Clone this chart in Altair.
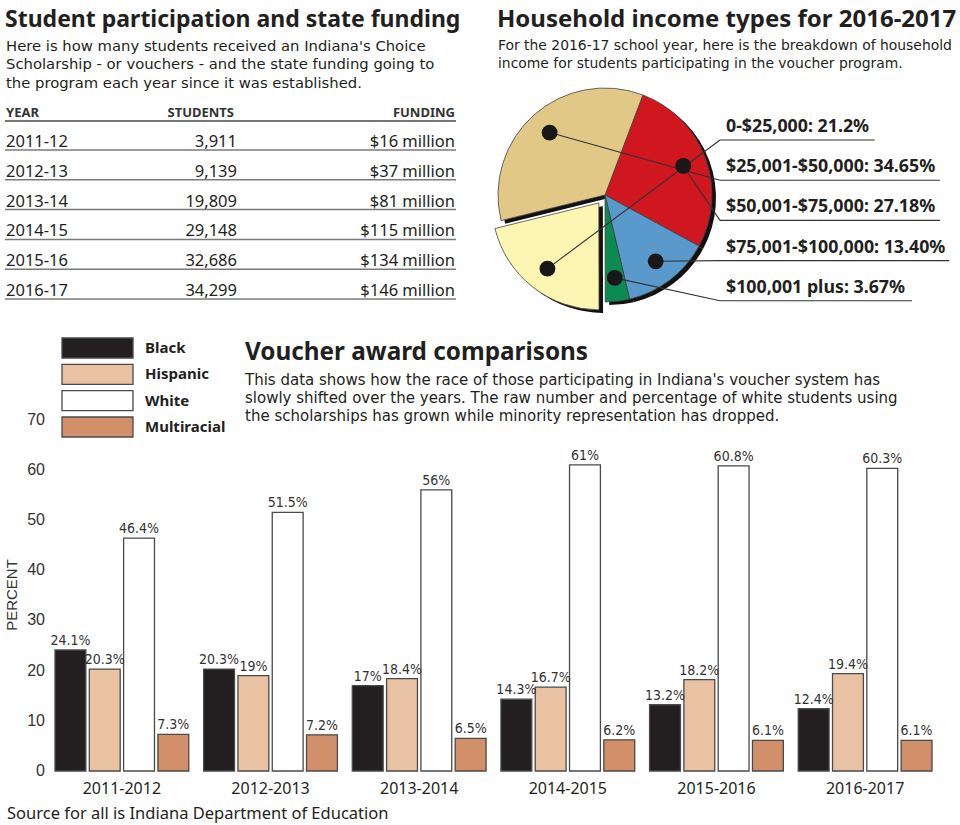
import math
import altair as alt
import pandas as pd

# ---------------- data ----------------
table_years = ["2011-12", "2012-13", "2013-14", "2014-15", "2015-16", "2016-17"]
table_students = [3911, 9139, 19809, 29148, 32686, 34299]
table_funding_millions = [16, 37, 81, 115, 134, 146]

income_labels = ["0-$25,000", "$25,001-$50,000", "$50,001-$75,000",
                 "$75,001-$100,000", "$100,001 plus"]
income_pct_text = ["21.2%", "34.65%", "27.18%", "13.40%", "3.67%"]
income_pct = [21.2, 34.65, 27.18, 13.40, 3.67]
income_colors = ["#FDF5B2", "#E2C887", "#D0161F", "#5A99CB", "#0B8A52"]
# clockwise drawing order of the slices
pie_order = ["$50,001-$75,000", "$75,001-$100,000", "$100,001 plus",
             "0-$25,000", "$25,001-$50,000"]
exploded_label = "0-$25,000"

bar_years = ["2011-2012", "2012-2013", "2013-2014", "2014-2015", "2015-2016", "2016-2017"]
races = ["Black", "Hispanic", "White", "Multiracial"]
race_colors = ["#231F20", "#E8C2A3", "#FFFFFF", "#D1906A"]
black_pct = [24.1, 20.3, 17, 14.3, 13.2, 12.4]
hispanic_pct = [20.3, 19, 18.4, 16.7, 18.2, 19.4]
white_pct = [46.4, 51.5, 56, 61, 60.8, 60.3]
multiracial_pct = [7.3, 7.2, 6.5, 6.2, 6.1, 6.1]
y_ticks = [0, 10, 20, 30, 40, 50, 60, 70]

# ---------------- style ----------------
INK = "#231F20"
BODY = "Noto Sans"
WIDE = "DejaVu Sans"
ARIAL = "Liberation Sans"
NARROW = "Liberation Sans Narrow, DejaVu Sans Condensed, sans-serif"

one = pd.DataFrame({"a": [0]})


def text_line(s, x, y, size, weight="normal", font=BODY, align="left",
              color=INK, angle=0, baseline="alphabetic"):
    return alt.Chart(one).mark_text(
        text=s, align=align, baseline=baseline, font=font, fontSize=size,
        fontWeight=weight, color=color, angle=angle
    ).encode(x=alt.value(x), y=alt.value(y))


layers = []

# ---------------- section 1: table ----------------
layers.append(text_line("Student participation and state funding", 5, 27, 23, "bold"))
for i, s in enumerate([
        "Here is how many students received an Indiana's Choice",
        "Scholarship - or vouchers - and the state funding going to",
        "the program each year since it was established."]):
    layers.append(text_line(s, 6, 51 + 18.3 * i, 14.8, font=WIDE))

layers.append(text_line("YEAR", 6, 117, 13, "bold", color="#333"))
layers.append(text_line("STUDENTS", 234, 117, 13, "bold", align="right", color="#333"))
layers.append(text_line("FUNDING", 455, 117, 13, "bold", align="right", color="#333"))
layers.append(alt.Chart(one).mark_rule(color="#777", strokeWidth=2).encode(
    x=alt.value(5), x2=alt.value(456), y=alt.value(121)))

tdf = pd.DataFrame({"year": table_years, "students": table_students,
                    "funding": [f"${v} million" for v in table_funding_millions]})
row_y = alt.Y("year:N", scale=alt.Scale(type="point", domain=table_years,
                                         range=[150, 299], padding=0), axis=None)
tbase = alt.Chart(tdf)
layers.append(tbase.mark_rule(color="#7a7a7a", strokeWidth=1.5).encode(
    y=row_y, x=alt.value(5), x2=alt.value(456)))
layers.append(tbase.mark_text(align="left", baseline="alphabetic", dy=-3, font=BODY,
                              fontSize=16.5, color=INK).encode(
    y=row_y, x=alt.value(6), text="year:N"))
layers.append(tbase.mark_text(align="right", baseline="alphabetic", dy=-3, font=BODY,
                              fontSize=16.5, color=INK).encode(
    y=row_y, x=alt.value(237), text=alt.Text("students:Q", format=",")))
layers.append(tbase.mark_text(align="right", baseline="alphabetic", dy=-3, font=BODY,
                              fontSize=16.5, color=INK).encode(
    y=row_y, x=alt.value(455), text="funding:N"))

# ---------------- section 2: pie ----------------
layers.append(text_line("Household income types for 2016-2017", 497, 27, 24, "bold"))
for i, s in enumerate([
        "For the 2016-17 school year, here is the breakdown of household",
        "income for students participating in the voucher program."]):
    layers.append(text_line(s, 498, 50 + 18 * i, 13.9, font=WIDE))

CX, CY, R = 605, 195, 107
START_DEG = 20.75
EXPLODE = 10
DOT_FRAC = 0.78

pdf = pd.DataFrame({"label": income_labels, "pct": income_pct,
                    "pct_text": income_pct_text})
pdf["idx"] = pdf["label"].map({l: i for i, l in enumerate(pie_order)})
pdf = pdf.sort_values("idx").reset_index(drop=True)
tot = pdf["pct"].sum()
pdf["cum"] = pdf["pct"].cumsum() - pdf["pct"]
pdf["mid"] = START_DEG + (pdf["cum"] + pdf["pct"] / 2) / tot * 360

ex_mid = math.radians(float(pdf.loc[pdf.label == exploded_label, "mid"].iloc[0]))
EX_CX = CX + EXPLODE * math.sin(ex_mid)
EX_CY = CY - EXPLODE * math.cos(ex_mid)

theta_range = [math.radians(START_DEG), math.radians(START_DEG) + 2 * math.pi]
theta = alt.Theta("pct:Q", stack=True, scale=alt.Scale(range=theta_range))
order = alt.Order("idx:Q")
fill = alt.Color("label:N", scale=alt.Scale(domain=income_labels, range=income_colors),
                 legend=None)
is_ex = alt.datum.label == exploded_label
pbase = alt.Chart(pdf)

SHX, SHY = 4, 3
# shadows
layers.append(pbase.mark_arc(outerRadius=R, color="#111").encode(
    theta=theta, order=order, x=alt.value(CX + SHX), y=alt.value(CY + SHY),
    opacity=alt.condition(is_ex, alt.value(0), alt.value(1))))
layers.append(pbase.mark_arc(outerRadius=R, color="#111").encode(
    theta=theta, order=order, x=alt.value(EX_CX + SHX), y=alt.value(EX_CY + SHY),
    opacity=alt.condition(is_ex, alt.value(1), alt.value(0))))
# slices
layers.append(pbase.mark_arc(outerRadius=R, stroke="#444", strokeWidth=0.8).encode(
    theta=theta, order=order, color=fill, x=alt.value(CX), y=alt.value(CY),
    opacity=alt.condition(is_ex, alt.value(0), alt.value(1))))
layers.append(pbase.mark_arc(outerRadius=R, stroke="#444", strokeWidth=0.8).encode(
    theta=theta, order=order, color=fill, x=alt.value(EX_CX), y=alt.value(EX_CY),
    opacity=alt.condition(is_ex, alt.value(1), alt.value(0))))

# dots + leader lines (computed from the slice angles)
LBL_X, ELBOW_X = 726, 720
rows = []
segs = []
for i, lab in enumerate(income_labels):
    r = pdf[pdf.label == lab].iloc[0]
    m = math.radians(r["mid"])
    cx, cy = (EX_CX, EX_CY) if lab == exploded_label else (CX, CY)
    dx = cx + DOT_FRAC * R * math.sin(m)
    dy = cy - DOT_FRAC * R * math.cos(m)
    under_y = 140 + 40.2 * i
    text = f"{lab}: {r['pct_text']}"
    end_x = LBL_X + 9.3 * len(text)
    rows.append({"text": text, "dx": dx, "dy": dy, "ty": under_y - 8})
    segs.append({"x": dx, "y": dy, "x2": ELBOW_X, "y2": under_y})
    segs.append({"x": ELBOW_X, "y": under_y, "x2": end_x, "y2": under_y})
rows = pd.DataFrame(rows)
segs = pd.DataFrame(segs)

layers.append(alt.Chart(segs).mark_rule(color="#333", strokeWidth=1.1).encode(
    x=alt.X("x:Q", scale=None), y=alt.Y("y:Q", scale=None),
    x2="x2:Q", y2="y2:Q"))
layers.append(alt.Chart(rows).mark_circle(size=250, color="#1a1718", opacity=1).encode(
    x=alt.X("dx:Q", scale=None), y=alt.Y("dy:Q", scale=None)))
layers.append(alt.Chart(rows).mark_text(align="left", baseline="alphabetic", font=BODY,
                                        fontSize=17.8, fontWeight="bold", color=INK).encode(
    x=alt.value(LBL_X), y=alt.Y("ty:Q", scale=None), text="text:N"))

# ---------------- section 3: bars ----------------
layers.append(text_line("Voucher award comparisons", 245, 360, 24.3, "bold"))
for i, s in enumerate([
        "This data shows how the race of those participating in Indiana's voucher system has",
        "slowly shifted over the years. The raw number and percentage of white students using",
        "the scholarships has grown while minority representation has dropped."]):
    layers.append(text_line(s, 245, 385 + 18.2 * i, 15, font=WIDE))

records = []
for j, y in enumerate(bar_years):
    for race, vals in zip(races, [black_pct, hispanic_pct, white_pct, multiracial_pct]):
        records.append({"year": y, "race": race, "pct": vals[j], "lbl": f"{vals[j]:g}%"})
bdf = pd.DataFrame(records)

Y0, Y70 = 771, 419.6
bx = alt.X("year:N", scale=alt.Scale(type="band", domain=bar_years, range=[55, 932],
                                     paddingInner=0.1, paddingOuter=0), axis=None)
bxo = alt.XOffset("race:N", scale=alt.Scale(type="band", domain=races,
                                            paddingInner=0.1, paddingOuter=0))
by = alt.Y("pct:Q", scale=alt.Scale(domain=[0, 70], range=[Y0, Y70]), axis=None)
bfill = alt.Color("race:N", scale=alt.Scale(domain=races, range=race_colors), legend=None)

bbase = alt.Chart(bdf)
layers.append(bbase.mark_bar(stroke="#4a4a4a", strokeWidth=1.3).encode(
    x=bx, xOffset=bxo, y=by, color=bfill))
layers.append(bbase.mark_text(baseline="bottom", dy=-2, font=NARROW, fontSize=14,
                              color="#333").encode(
    x=bx, xOffset=bxo, y=by, text="lbl:N"))

ydf = pd.DataFrame({"t": y_ticks})
layers.append(alt.Chart(ydf).mark_text(align="right", baseline="middle", font=ARIAL,
                                       fontSize=16, color="#333").encode(
    x=alt.value(45), y=alt.Y("t:Q", scale=alt.Scale(domain=[0, 70], range=[Y0, Y70]), axis=None),
    text="t:Q"))
layers.append(text_line("PERCENT", 12, 595, 15, font=ARIAL, align="center",
                        baseline="middle", angle=270, color="#333"))

xdf = pd.DataFrame({"year": bar_years})
layers.append(alt.Chart(xdf).mark_text(align="center", baseline="alphabetic", font=BODY,
                                       fontSize=16, color=INK).encode(
    x=bx, y=alt.value(794), text="year:N"))

# legend
ldf = pd.DataFrame({"race": races})
ly = alt.Y("race:N", scale=alt.Scale(type="band", domain=races, range=[338, 437],
                                     paddingInner=0.24, paddingOuter=0), axis=None)
layers.append(alt.Chart(ldf).mark_rect(stroke="#4a4a4a", strokeWidth=1.3).encode(
    y=ly, x=alt.value(62), x2=alt.value(133), color=bfill))
layers.append(alt.Chart(ldf).mark_text(align="left", baseline="middle", font=BODY,
                                       fontSize=15, fontWeight="bold", color=INK).encode(
    y=ly, x=alt.value(145), text="race:N"))

layers.append(text_line("Source for all is Indiana Department of Education", 7, 819, 16.5))

chart = alt.layer(*layers).resolve_scale(
    x="independent", y="independent", color="independent", theta="independent",
    opacity="independent", xOffset="independent"
).properties(
    width=960, height=825, padding=0,
    autosize=alt.AutoSizeParams(type="none"),
    background="white"
).configure_view(stroke=None)

chart.save("out.html", embed_options={"renderer": "svg", "actions": False})
